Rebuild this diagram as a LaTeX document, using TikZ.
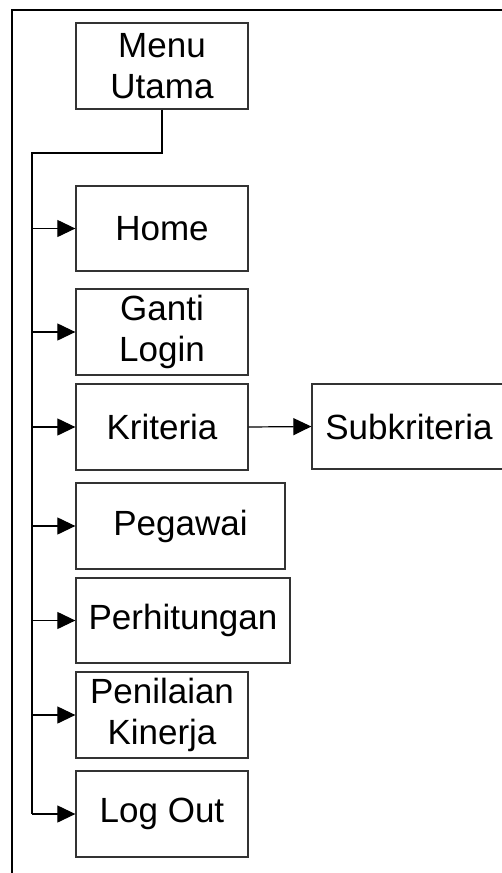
\documentclass[tikz,border=0pt]{standalone}
\usepackage{fontspec}
\setmainfont{Liberation Sans}
\usetikzlibrary{arrows.meta}
\begin{document}
\begin{tikzpicture}[x=1pt,y=-1pt,
  menubox/.style={draw=black!80, line width=1.3pt, inner sep=0pt, align=center,
    font=\fontsize{35}{41}\selectfont},
  link/.style={draw=black, line width=1.2pt},
  tip/.style={link, -{Triangle[length=18pt,width=17pt]}},
  frame/.style={draw=black, line width=2.6pt}]
\path[use as bounding box, clip] (0,0) rectangle (502,873);

% outer frame (top and left edges)
\coordinate (fl) at (12,873);
\coordinate (fc) at (12,10);
\coordinate (fr) at (510,10);
\draw[frame] (fl) -- (fc) -- (fr);

% menu boxes
\node[menubox, minimum width=172pt, minimum height=86pt] (menu) at (162,66) {Menu\\Utama};
\node[menubox, minimum width=172pt, minimum height=85pt] (home) at (162,228.5) {Home};
\node[menubox, minimum width=172pt, minimum height=86pt] (ganti) at (162,332) {Ganti\\Login};
\node[menubox, minimum width=172pt, minimum height=86pt] (krit) at (162,427) {Kriteria};
\node[menubox, minimum width=194pt, minimum height=85pt] (sub) at (409,426.5) {Subkriteria};
\node[menubox, minimum width=209pt, minimum height=86pt] (peg) at (180.5,526) {Pegawai};
\node[menubox, minimum width=214pt, minimum height=85pt] (hit) at (183,620.5) {Perhitungan};
\node[menubox, minimum width=172pt, minimum height=86pt] (nilai) at (162,715) {Penilaian\\Kinerja};
\node[menubox, minimum width=172pt, minimum height=86pt] (out) at (162,814) {Log Out};

% trunk from the main menu down the left side
\coordinate (bend) at (162,153);
\coordinate (corner) at (32,153);
\coordinate (bottom) at (32,814);
\draw[link] (menu.south) -- (bend) -- (corner) -- (bottom);

% branches into each menu item
\foreach \n in {home,ganti,krit,peg,hit,nilai,out}{
  \draw[tip] (corner |- \n.west) -- (\n.west);
}
\draw[tip] (krit.east) -- (sub.west);
\end{tikzpicture}
\end{document}
